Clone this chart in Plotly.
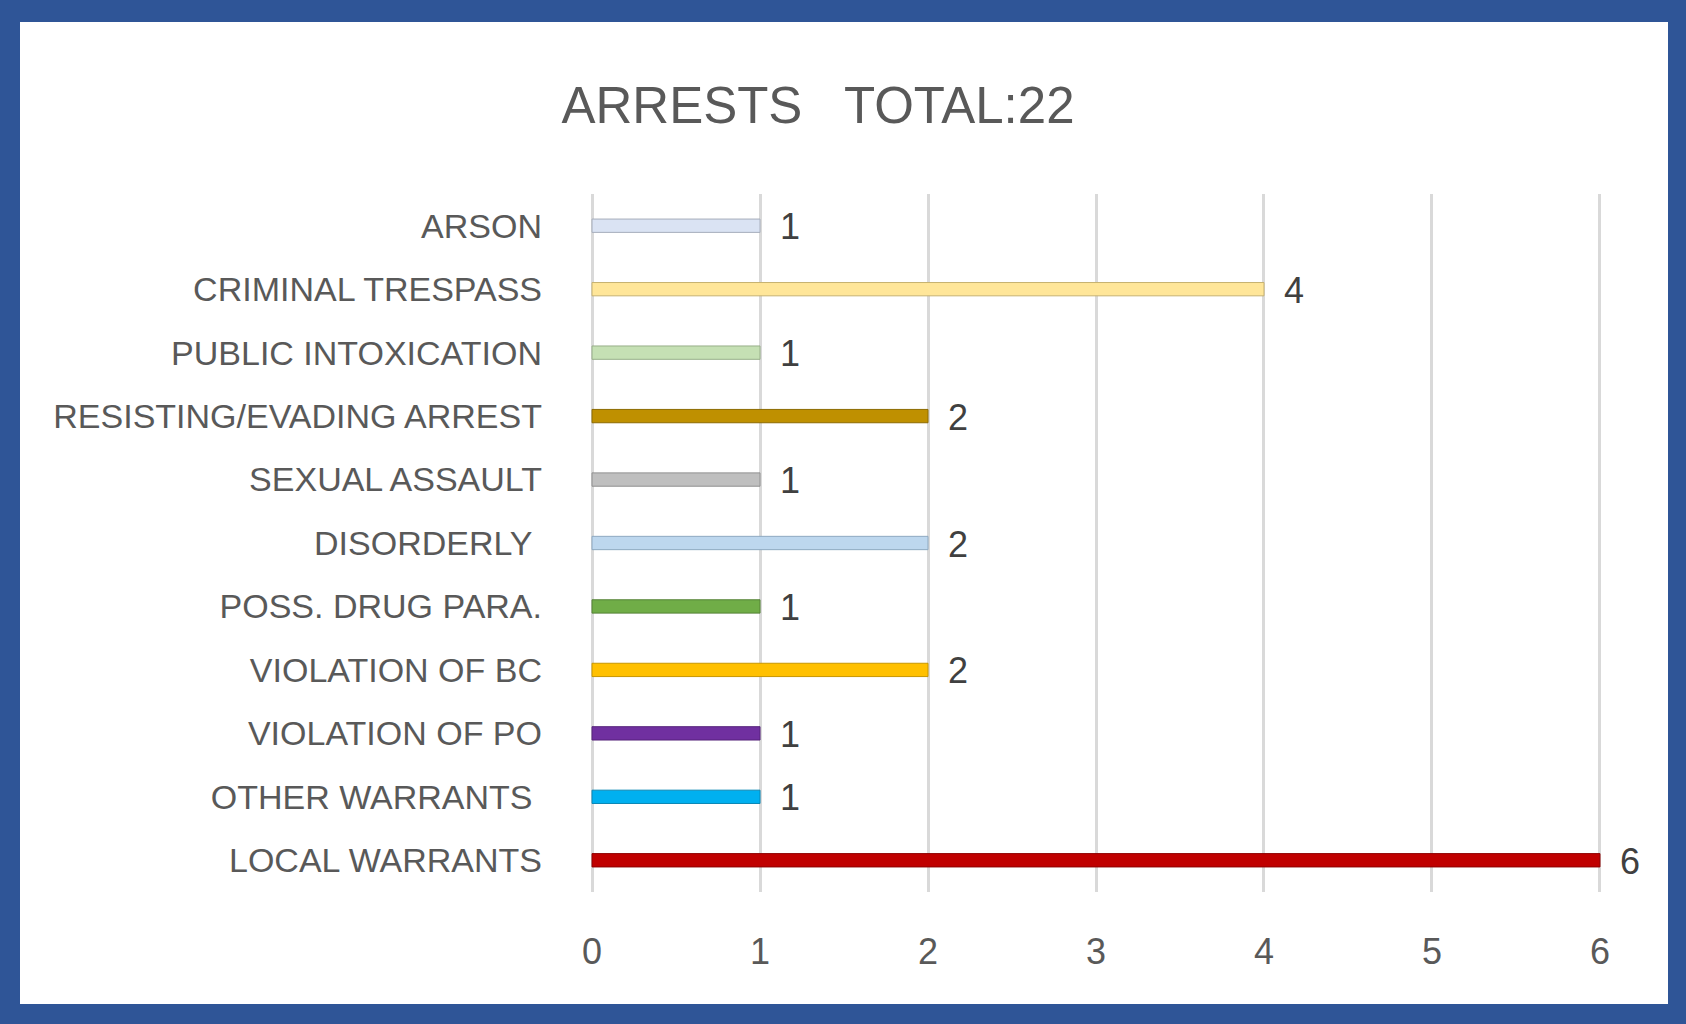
import plotly.graph_objects as go

# Data (bottom to top)
categories = [
    "LOCAL WARRANTS",
    "OTHER WARRANTS\u00a0",
    "VIOLATION OF PO",
    "VIOLATION OF BC",
    "POSS. DRUG PARA.",
    "DISORDERLY\u00a0",
    "SEXUAL ASSAULT",
    "RESISTING/EVADING ARREST",
    "PUBLIC INTOXICATION",
    "CRIMINAL TRESPASS",
    "ARSON",
]
values = [6, 1, 1, 2, 1, 2, 1, 2, 1, 4, 1]
bar_colors = ["#C00000", "#00B0F0", "#7030A0", "#FFC000", "#70AD47", "#BDD7EE",
              "#BFBFBF", "#BF9000", "#C5E0B4", "#FFE699", "#DAE3F3"]
edge_colors = ["#8E0000", "#0A86B4", "#55237A", "#C79600", "#548235", "#8EA9C1",
               "#8F8F8F", "#8C6A00", "#97AE89", "#C7B270", "#A7AEBB"]
x_ticks = [0, 1, 2, 3, 4, 5, 6]
title_text = "ARRESTS\u00a0\u00a0 TOTAL:22"

W, H = 1686, 1024
L, R, T, B = 589, 83, 194, 132
pw, ph = W - L - R, H - T - B

def px_x(p):
    return (p - L) / pw

def px_y(p):
    return (H - B - p) / ph

fig = go.Figure()
fig.add_trace(go.Bar(
    x=values, y=categories, orientation="h",
    marker=dict(color=bar_colors, line=dict(color=edge_colors, width=1)),
    hoverinfo="x+y", showlegend=False,
))

for c, v in zip(categories, values):
    fig.add_annotation(x=v, y=c, text=str(v), showarrow=False, xanchor="left",
                       yanchor="middle", xshift=18, yshift=-1,
                       font=dict(family="Liberation Sans, Arial, sans-serif", size=36, color="#404040"))

# blue frame: white inner panel on a blue paper
fig.add_shape(type="rect", xref="paper", yref="paper",
              x0=px_x(20), x1=px_x(1668), y0=px_y(1004), y1=px_y(22),
              fillcolor="white", line=dict(width=0), layer="below")

fig.update_layout(
    width=W, height=H,
    margin=dict(l=L, r=R, t=T, b=B, pad=0),
    paper_bgcolor="#2F5597",
    plot_bgcolor="rgba(0,0,0,0)",
    bargap=0.79,
    title=dict(text=title_text, x=818 / W, xanchor="center", xref="container",
               y=1 - 105 / H, yanchor="middle", yref="container",
               font=dict(family="Liberation Sans, Arial, sans-serif",
                         size=51, color="#595959")),
    xaxis=dict(range=[-0.018, 6.018], tickvals=x_ticks, showgrid=True, gridcolor="#D9D9D9",
               gridwidth=3, zeroline=False, showline=False, ticks="",
               ticklabelstandoff=35,
               tickfont=dict(family="Liberation Sans, Arial, sans-serif", size=36, color="#595959")),
    yaxis=dict(range=[-0.5, 10.5], showgrid=False, zeroline=False, showline=False,
               ticks="", ticklabelstandoff=46,
               tickfont=dict(family="Liberation Sans, Arial, sans-serif", size=34, color="#595959")),
)

fig.write_html("out.html", config={"displayModeBar": False},
               post_script="document.body.style.margin='0';document.body.style.overflow='hidden';")
